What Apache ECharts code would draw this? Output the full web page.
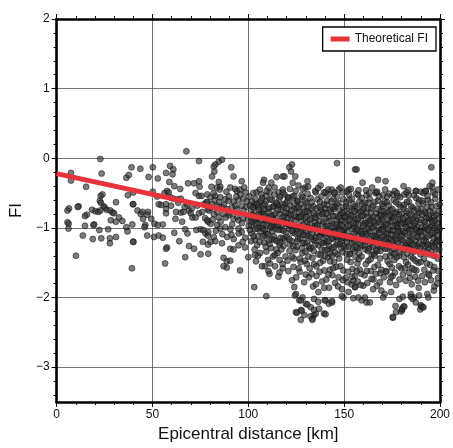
<!DOCTYPE html>
<html>
<head>
<meta charset="utf-8">
<script src="https://cdn.jsdelivr.net/npm/echarts@6/dist/echarts.min.js"></script>
<style>
  html, body { margin: 0; padding: 0; background: #fff; }
  #chart { width: 453px; height: 448px; }
</style>
</head>
<body>
<div id="chart"></div>
<script>
// tick values
const xMajor = [0, 50, 100, 150, 200];
const yMajor = [-3, -2, -1, 0, 1, 2];
const yMinor = [-3.4, -3.2, -3.0, -2.8, -2.6, -2.4, -2.2, -2.0, -1.8, -1.6, -1.4, -1.2, -1.0,
  -0.8, -0.6, -0.4, -0.2, 0, 0.2, 0.4, 0.6, 0.8, 1.0, 1.2, 1.4, 1.6, 1.8, 2.0];

// theoretical FI line (end points)
const fiLine = [[0, -0.22], [200, -1.41]];

// observed FI, grouped by distance band [km, FI]
const ptsNear = [
  [22.8,-0.01],[7.5,-0.21],[7.5,-0.32],[23.5,-0.22],[15.4,-0.41],[39.1,-0.13],[36.4,-0.28],[37.7,-0.24],[37.2,-0.53],[39.8,-0.66],
  [23.0,-0.54],[23.9,-0.52],[22.6,-0.61],[23.1,-0.64],[31.0,-0.63],[11.5,-0.69],[11.0,-0.70],[6.5,-0.72],[5.7,-0.75],[24.5,-0.69],[25.2,-0.71],
  [18.5,-0.74],[20.2,-0.76],[21.8,-0.77],[22.8,-0.75],[15.8,-0.81],[14.8,-0.83],[26.2,-0.74],[28.0,-0.75],[29.2,-0.78],[30.0,-0.79],
  [28.3,-0.89],[30.9,-0.91],[32.6,-0.85],[34.3,-0.90],[5.7,-0.92],[6.3,-0.94],[19.6,-0.95],[19.2,-0.96],[6.2,-1.01],[14.8,-0.97],
  [22.3,-1.03],[26.9,-1.02],[36.4,-0.99],[37.0,-1.05],[39.5,-0.95],[13.7,-1.11],[18.9,-1.16],[23.3,-1.15],[27.8,-1.15],[27.8,-1.22],
  [31.0,-1.13],[40.0,-1.20],[10.1,-1.40],[39.3,-1.58]
];
const ptsMid = [
  [67.7,0.10],[74.3,-0.04],[43.7,-0.15],[50.2,-0.13],[59.2,-0.11],[60.9,-0.16],[60.5,-0.23],[57.1,-0.21],[52.8,-0.29],[48.0,-0.27],
  [58.8,-0.34],[61.4,-0.40],[64.5,-0.44],[68.6,-0.36],[71.7,-0.36],[74.3,-0.33],[74.6,-0.41],[57.6,-0.47],[56.3,-0.50],[58.5,-0.49],[50.2,-0.48],[40.0,-0.49],
  [72.5,-0.50],[74.3,-0.54],[75.6,-0.54],[52.5,-0.55],[53.3,-0.66],[54.5,-0.67],[59.3,-0.56],[61.0,-0.58],[63.1,-0.59],[64.8,-0.58],
  [57.1,-0.66],[57.1,-0.73],[57.1,-0.79],[59.7,-0.68],[62.3,-0.77],[64.8,-0.78],[66.2,-0.77],[40.0,-0.66],
  [42.2,-0.75],[44.8,-0.77],[43.9,-0.80],[45.1,-0.87],[47.7,-0.77],[47.3,-0.81],[69.1,-0.75],[70.0,-0.79],[70.8,-0.85],[72.5,-0.85],[74.3,-0.79],[76.0,-0.77],
  [78.2,-0.63],[78.9,-0.73],[79.0,-0.91],[49.4,-0.87],[51.1,-0.94],[52.8,-0.96],[55.4,-0.95],[46.3,-0.96],[45.9,-0.99],[47.3,-1.11],[40.0,-1.20],
  [50.8,-1.13],[53.2,-1.11],[55.4,-1.14],[61.4,-1.07],[67.1,-1.02],[68.3,-1.08],[72.9,-1.03],[75.1,-1.02],[76.5,-1.03],[77.7,-1.08],[78.9,-1.11],
  [64.0,-1.19],[69.1,-1.26],[71.7,-1.30],[76.3,-1.20],[75.1,-1.38],[79.0,-1.24],[57.6,-1.28],[57.1,-1.30],[67.1,-1.42],[56.6,-1.51],
  [63.5,-0.64],[66.8,-0.70],[68.0,-0.66],[70.5,-0.72],[73.4,-0.68],[76.8,-0.66],[77.5,-0.86],[62.0,-0.87],[65.5,-0.91]
];
const ptsOuter = [
  [86.3,-0.02],[84.6,-0.05],[82.8,-0.09],[82.0,-0.12],[91.1,-0.13],[82.3,-0.19],[81.1,-0.26],[92.3,-0.26],[96.6,-0.33],
  [108.2,-0.31],[107.7,-0.35],[118.0,-0.26],[84.6,-0.34],[80.8,-0.41],[83.7,-0.42],[85.4,-0.41],
  [90.6,-0.42],[93.1,-0.44],[94.0,-0.47],[95.7,-0.45],[97.9,-0.42],[98.6,-0.49],
  [104.3,-0.49],[106.0,-0.45],[106.9,-0.52],[109.4,-0.54],[111.1,-0.49],[113.7,-0.42],[115.8,-0.49],
  [78.6,-0.52],[80.3,-0.56],[82.8,-0.54],[85.4,-0.56],[88.0,-0.59],[89.7,-0.61],[92.3,-0.62],[94.9,-0.60],[97.4,-0.58],
  [78.6,-0.63],[81.1,-0.66],[83.7,-0.68],[86.3,-0.70],[88.8,-0.73],[91.4,-0.70],[94.0,-0.73],[96.6,-0.68],[99.1,-0.70],
  [103.4,-0.66],[105.1,-0.70],[107.7,-0.68],[110.3,-0.73],[112.9,-0.70],[115.4,-0.68],[118.0,-0.66],
  [79.4,-0.75],[82.0,-0.80],[84.6,-0.85],[87.1,-0.80],[89.7,-0.82],[92.3,-0.87],[94.9,-0.89],[97.4,-0.86],
  [102.6,-0.80],[105.1,-0.85],[107.7,-0.80],[110.3,-0.86],[112.9,-0.82],[116.3,-0.80],
  [78.6,-0.89],[80.3,-0.94],[83.7,-0.96],[85.4,-1.01],[88.0,-0.99],[90.6,-1.02],[94.9,-1.01],[96.6,-1.06],
  [101.7,-0.96],[103.4,-1.02],[106.0,-0.99],[108.6,-1.03],[112.0,-1.00],[114.6,-0.96],[117.2,-1.02],
  [79.1,-1.06],[82.0,-1.13],[82.8,-1.19],[80.3,-1.20],[86.3,-1.22],[90.6,-1.30],[92.3,-1.31],[94.9,-1.25],
  [98.3,-1.28],[100.0,-1.42],[103.4,-1.39],[105.1,-1.40],
  [101.7,-1.08],[103.4,-1.17],[106.0,-1.20],[108.6,-1.11],[111.1,-1.23],[113.7,-1.17],[116.3,-1.24],[118.0,-1.15],
  [109.4,-1.34],[110.3,-1.46],[112.9,-1.41],[114.6,-1.31],[116.3,-1.46],[79.1,-1.37],
  [87.1,-1.43],[88.8,-1.48],[90.6,-1.47],[87.1,-1.55],[88.8,-1.57],[95.7,-1.61],
  [108.6,-1.55],[111.1,-1.66],[116.3,-1.64],[118.0,-1.58],[103.1,-1.85],[109.4,-1.98],
  [146.3,-0.07],[155.7,-0.16],[122.8,-0.09],[121.4,-0.13],[122.3,-0.19],[124.5,-0.26],[118.9,-0.26],[123.2,-0.35],
  [130.9,-0.33],[129.7,-0.42],[128.3,-0.56],[137.7,-0.39],[135.2,-0.49],[139.5,-0.49],[141.7,-0.45],[144.6,-0.49],
  [147.2,-0.45],[149.2,-0.49],[152.3,-0.45],[118.0,-0.45],[118.9,-0.52],[120.6,-0.56],[124.0,-0.54],[125.7,-0.61],
  [195.5,-0.13],[196.0,-0.35],[196.0,-0.42],[194.6,-0.40],[156.5,-0.16],[167.7,-0.31],[171.6,-0.33],[159.6,-0.35],[181.0,-0.40],
  [166.8,-0.49],[175.4,-0.52],[187.4,-0.47],[190.0,-0.48],[192.5,-0.47],[157.4,-0.53],[161.7,-0.53],[170.2,-0.53],[178.0,-0.54],[183.6,-0.53]
];
const ptsLow = [
  [124.0,-1.85],[124.9,-1.95],[126.6,-2.04],[128.3,-2.00],[130.0,-2.09],[127.5,-2.18],[129.2,-2.25],[124.9,-2.21],
  [132.6,-2.14],[134.3,-2.25],[133.5,-2.30],[135.2,-2.23],[136.9,-2.16],[139.5,-2.23],[140.3,-2.04],[142.0,-2.09],
  [143.7,-2.07],[149.7,-2.00],[152.3,-1.92],[155.7,-1.85],
  [159.1,-2.04],[161.7,-2.07],[163.4,-2.07],[157.4,-2.00],[176.8,-2.12],[177.1,-2.21],[180.2,-2.18],[181.0,-2.13],
  [175.4,-2.29],[190.0,-2.11],[190.8,-2.14],[154.8,-1.76],[155.7,-1.85],[160.0,-1.83],[165.1,-1.88],[169.4,-1.90],
  [171.1,-1.95],[174.5,-1.92],[184.8,-1.95],[186.5,-2.00],[189.1,-1.97],[193.4,-1.95],[196.8,-1.90],
  [124.3,-1.97],[127.4,-2.04],[125.3,-2.22],[127.9,-2.19],[127.4,-2.32],[130.8,-2.10],[132.5,-2.27],[133.4,-2.32],
  [134.3,-2.18],[134.3,-2.02],[136.5,-2.06],[139.9,-2.04],[140.3,-2.24],[143.7,-2.05],[148.8,-1.98],[154.8,-2.01],
  [160.8,-2.00],[170.3,-2.00],[175.4,-2.28],[178.8,-2.02],[180.6,-1.99],[179.7,-2.20],[180.2,-2.16],[181.4,-2.13],
  [184.8,-1.99],[185.7,-2.02],[187.4,-2.07],[189.7,-2.17],[190.3,-2.13],[191.4,-2.14],[193.9,-2.00]
];
const ptsDense = [
  [100.5,-0.55],[101.2,-0.78],[101.9,-0.62],[102.3,-0.91],[102.8,-1.12],[103.1,-0.71],[103.7,-0.58],[104.2,-0.84],[104.6,-1.25],[105.3,-0.93],
  [105.8,-0.64],[106.4,-1.05],[106.9,-0.77],[107.3,-0.57],[107.9,-0.95],[108.3,-1.21],[108.8,-0.83],[109.2,-0.62],[109.7,-1.08],[110.1,-0.90],
  [110.6,-0.42],[111.0,-0.71],[111.5,-0.98],[111.9,-1.29],[112.4,-0.60],[112.8,-0.87],[113.3,-1.12],[113.6,-0.52],[114.1,-0.79],[114.5,-1.02],
  [115.0,-0.66],[115.3,-1.36],[115.9,-0.91],[116.2,-0.58],[116.8,-1.14],[117.1,-0.74],[117.6,-0.97],[118.0,-0.49],[118.4,-1.26],[118.9,-0.83],
  [119.3,-0.65],[119.7,-1.07],[120.0,-0.92],[112.0,-0.35],[114.8,-0.27],[117.9,-1.52],[111.3,-1.51],
  [120.4,-0.61],[120.8,-0.79],[121.2,-1.01],[121.5,-1.33],[121.9,-0.68],[122.3,-0.88],[122.6,-1.19],[123.0,-0.55],[123.4,-0.96],[123.8,-1.44],
  [124.1,-0.73],[124.5,-1.08],[124.9,-0.84],[125.2,-1.27],[125.6,-0.62],[126.0,-0.99],[126.3,-1.58],[126.7,-0.77],[127.1,-1.15],[127.5,-0.90],
  [127.8,-0.53],[128.2,-1.36],[128.6,-1.02],[128.9,-0.71],[129.3,-1.21],[129.7,-0.86],[130.0,-1.67],[120.9,-1.62],[122.8,-1.75],[125.0,-1.71],
  [127.3,-1.49],[129.1,-1.78],[121.7,-0.44],[126.2,-0.39],
  [130.4,-0.64],[130.7,-0.93],[131.1,-1.12],[131.4,-1.41],[131.8,-0.78],[132.2,-1.03],[132.5,-0.57],[132.9,-1.29],[133.2,-0.86],[133.6,-1.17],
  [134.0,-0.69],[134.3,-1.52],[134.7,-0.97],[135.0,-1.24],[135.4,-0.81],[135.8,-1.07],[136.1,-0.59],[136.5,-1.38],[136.8,-0.90],[137.2,-1.63],
  [137.6,-1.11],[137.9,-0.74],[138.3,-1.31],[138.7,-0.95],[139.0,-1.47],[139.4,-0.66],[139.8,-1.19],[131.6,-1.71],[133.8,-1.84],[135.6,-1.69],
  [138.5,-1.77],[130.9,-0.51],[134.9,-0.47],[138.1,-0.55],[136.6,-1.92],[132.0,-1.58],
  [140.2,-0.72],[140.5,-0.98],[140.9,-1.21],[141.2,-0.61],[141.6,-1.42],[141.9,-0.85],[142.3,-1.09],[142.6,-1.60],[143.0,-0.77],[143.3,-1.30],
  [143.7,-0.94],[144.1,-1.16],[144.4,-0.58],[144.8,-1.49],[145.1,-1.03],[145.5,-0.83],[145.8,-1.25],[146.2,-0.66],[146.6,-1.38],[146.9,-0.99],
  [147.3,-1.12],[147.6,-0.75],[148.0,-1.55],[148.4,-0.89],[148.7,-1.19],[149.1,-1.35],[149.4,-0.70],[149.8,-1.05],[140.7,-1.74],[142.1,-1.86],
  [143.9,-1.68],[145.3,-1.79],[147.1,-1.71],[148.9,-1.88],[141.4,-0.52],[143.5,-0.45],[146.4,-0.55],[149.6,-0.59],[142.8,-1.37],[144.6,-0.73],
  [147.8,-0.95],[140.0,-1.32],
  [150.2,-0.77],[150.5,-1.01],[150.9,-1.28],[151.2,-0.63],[151.6,-1.46],[151.9,-0.89],[152.3,-1.15],[152.6,-0.71],[153.0,-1.37],[153.3,-0.96],
  [153.7,-1.22],[154.1,-0.58],[154.4,-1.59],[154.8,-0.84],[155.1,-1.08],[155.5,-1.33],[155.8,-0.69],[156.2,-0.93],[156.6,-1.19],[156.9,-1.51],
  [157.3,-0.79],[157.6,-1.04],[158.0,-0.62],[158.4,-1.27],[158.7,-0.88],[159.1,-1.41],[159.4,-1.12],[159.8,-0.74],[150.7,-1.72],[152.1,-1.63],
  [153.8,-1.81],[155.6,-1.69],[157.1,-1.77],[158.9,-1.66],[151.4,-0.48],[153.5,-0.44],[156.4,-0.51],[159.2,-0.57],[152.8,-0.87],[155.2,-0.99],
  [157.9,-1.36],
  [160.2,-0.82],[160.5,-1.06],[160.9,-0.64],[161.2,-1.31],[161.6,-0.93],[161.9,-1.18],[162.3,-0.72],[162.6,-1.47],[163.0,-1.01],[163.3,-0.58],
  [163.7,-1.24],[164.1,-0.87],[164.4,-1.39],[164.8,-1.11],[165.1,-0.68],[165.5,-0.97],[165.8,-1.56],[166.2,-1.20],[166.6,-0.79],[166.9,-1.04],
  [167.3,-1.33],[167.6,-0.61],[168.0,-0.91],[168.4,-1.16],[168.7,-1.44],[169.1,-0.75],[169.4,-1.02],[169.8,-1.27],[160.7,-1.68],[162.1,-1.79],
  [163.9,-1.62],[165.3,-1.74],[167.1,-1.83],[168.9,-1.65],[161.4,-0.46],[164.6,-0.42],[166.4,-0.50],[168.2,-0.55],[162.8,-0.95],[165.9,-1.12],
  [167.8,-1.25],[169.6,-0.88],
  [170.2,-0.69],[170.5,-0.98],[170.9,-1.23],[171.2,-0.81],[171.6,-1.41],[171.9,-1.07],[172.3,-0.63],[172.6,-1.30],[173.0,-0.90],[173.3,-1.15],
  [173.7,-1.52],[174.1,-0.74],[174.4,-1.03],[174.8,-1.36],[175.1,-0.86],[175.5,-1.19],[175.8,-0.60],[176.2,-1.46],[176.6,-0.95],[176.9,-1.10],
  [177.3,-0.77],[177.6,-1.28],[178.0,-1.01],[178.4,-0.66],[178.7,-1.40],[179.1,-0.89],[179.4,-1.17],[179.8,-1.58],[170.7,-1.71],[172.1,-1.63],
  [173.9,-1.78],[175.3,-1.69],[177.1,-1.82],[178.9,-1.74],[171.4,-0.45],[173.5,-0.51],[176.4,-0.47],[179.2,-0.56],[172.8,-1.08],[175.9,-1.25],
  [177.8,-0.93],[174.6,-0.83],
  [180.2,-0.80],[180.5,-1.05],[180.9,-1.32],[181.2,-0.67],[181.6,-0.94],[181.9,-1.21],[182.3,-1.49],[182.6,-0.76],[183.0,-1.02],[183.3,-1.27],
  [183.7,-0.62],[184.1,-0.88],[184.4,-1.13],[184.8,-1.41],[185.1,-0.97],[185.5,-1.58],[185.8,-0.71],[186.2,-1.08],[186.6,-1.34],[186.9,-0.84],
  [187.3,-1.19],[187.6,-0.57],[188.0,-0.99],[188.4,-1.26],[188.7,-1.50],[189.1,-0.78],[189.4,-1.04],[189.8,-1.38],[180.7,-1.67],[182.1,-1.76],
  [183.9,-1.64],[185.3,-1.81],[187.1,-1.70],[188.9,-1.86],[181.4,-0.52],[183.5,-0.46],[186.4,-0.53],[189.2,-0.60],[182.8,-0.92],[184.6,-1.22],
  [187.8,-0.90],
  [190.2,-0.73],[190.5,-1.00],[190.9,-1.24],[191.2,-0.65],[191.6,-1.44],[191.9,-0.91],[192.3,-1.14],[192.6,-0.79],[193.0,-1.35],[193.3,-1.03],
  [193.7,-0.60],[194.1,-1.28],[194.4,-0.87],[194.8,-1.53],[195.1,-1.10],[195.5,-0.70],[195.8,-0.97],[196.2,-1.21],[196.6,-1.40],[196.9,-0.83],
  [197.3,-1.07],[197.6,-0.58],[198.0,-1.31],[198.4,-0.94],[198.7,-1.17],[199.1,-1.62],[199.4,-0.76],[199.7,-1.02],[190.7,-1.69],[192.1,-1.78],
  [193.9,-1.66],[195.3,-1.75],[197.1,-1.84],[198.9,-1.72],[191.4,-0.50],[193.5,-0.54],[196.4,-0.49],[199.2,-0.45],[192.8,-1.20],[195.6,-0.89],
  [198.2,-1.11]
];
const ptsDense2 = [
  [80.7,-0.71],[81.5,-0.88],[82.4,-0.60],[83.1,-1.04],[83.9,-0.77],[84.8,-0.63],[85.6,-0.91],[86.5,-1.09],[87.3,-0.67],[88.2,-0.85],
  [89.0,-1.13],[89.9,-0.55],[90.7,-0.79],[91.6,-0.95],[92.4,-1.16],[93.3,-0.68],[94.1,-0.84],[95.0,-1.08],[95.8,-0.52],[96.7,-0.93],
  [97.5,-0.75],[98.4,-1.14],[99.2,-0.62],[99.8,-0.88],[81.9,-0.50],[85.1,-0.45],[88.6,-0.48],[93.8,-0.55],[97.1,-1.20],[91.2,-1.10],
  [100.2,-0.97],[100.9,-0.68],[101.5,-1.19],[102.1,-0.82],[102.6,-0.50],[103.3,-1.31],[103.9,-0.93],[104.5,-0.66],[105.0,-1.12],[105.6,-0.80],
  [106.2,-1.36],[106.7,-0.61],[107.4,-1.01],[108.0,-0.73],[108.6,-0.89],[109.1,-1.27],[109.6,-0.47],[110.3,-1.09],[110.8,-0.78],[111.4,-0.59],
  [112.1,-1.16],[112.7,-0.95],[113.2,-0.69],[113.8,-1.39],[114.3,-0.88],[114.9,-1.19],[115.5,-0.74],[116.0,-1.03],[116.6,-0.55],[117.3,-1.31],
  [117.8,-0.85],[118.6,-0.70],[119.1,-1.17],[119.6,-0.94],[104.0,-1.48],[107.1,-1.55],[110.5,-1.62],[114.0,-1.55],[119.4,-1.41],[115.7,-1.70],
  [120.3,-1.13],[120.7,-0.86],[121.1,-0.57],[121.6,-1.24],[122.0,-0.97],[122.5,-0.75],[122.9,-1.41],[123.3,-1.07],[123.7,-0.64],[124.2,-0.90],
  [124.6,-1.32],[125.1,-1.01],[125.4,-0.72],[125.9,-1.16],[126.4,-0.85],[126.9,-1.44],[127.2,-0.66],[127.7,-1.06],[128.1,-0.80],[128.5,-1.22],
  [128.8,-0.95],[129.5,-0.61],[129.9,-1.11],[120.5,-1.47],[123.6,-1.56],[126.8,-1.63],[129.6,-1.47],[124.7,-0.47],[128.4,-0.44],
  [130.2,-0.84],[130.6,-1.21],[131.0,-0.70],[131.3,-0.99],[131.9,-1.30],[132.3,-0.88],[132.7,-1.13],[133.1,-0.63],[133.5,-1.43],[133.9,-1.01],
  [134.2,-0.79],[134.6,-1.18],[135.1,-0.92],[135.5,-1.55],[135.9,-0.72],[136.3,-1.01],[136.7,-1.25],[137.0,-0.83],[137.4,-0.63],[137.8,-1.39],
  [138.2,-1.06],[138.6,-0.80],[138.9,-1.22],[139.3,-0.91],[139.7,-1.61],[130.5,-1.52],[133.0,-1.66],[135.3,-1.81],[137.5,-1.50],[139.6,-1.86],
  [131.2,-0.41],[136.4,-0.43],
  [140.3,-0.87],[140.6,-1.12],[141.0,-0.67],[141.3,-1.31],[141.7,-0.97],[142.0,-1.19],[142.4,-0.74],[142.7,-1.48],[143.1,-1.05],[143.4,-0.62],
  [143.8,-1.40],[144.2,-0.83],[144.5,-1.28],[144.9,-0.98],[145.2,-0.70],[145.6,-1.13],[145.9,-1.56],[146.3,-0.89],[146.7,-1.22],[147.0,-0.64],
  [147.4,-1.44],[147.7,-1.03],[148.1,-0.81],[148.5,-1.29],[148.8,-0.96],[149.2,-1.14],[149.5,-1.61],[149.9,-0.84],[141.8,-1.67],[144.3,-1.58],
  [146.8,-1.84],[149.3,-1.75],[140.4,-0.49],[145.0,-0.50],[148.2,-0.42],
  [150.3,-0.91],[150.6,-1.15],[151.0,-0.69],[151.3,-1.37],[151.7,-1.06],[152.0,-0.80],[152.4,-1.27],[152.7,-0.60],[153.1,-1.12],[153.4,-1.49],
  [153.9,-0.75],[154.2,-1.01],[154.6,-1.30],[154.9,-0.66],[155.3,-1.20],[155.7,-0.88],[156.0,-1.42],[156.3,-1.05],[156.7,-0.72],[157.0,-1.29],
  [157.4,-0.95],[157.8,-1.13],[158.1,-1.60],[158.5,-0.77],[158.8,-1.05],[159.3,-0.66],[159.6,-1.25],[159.9,-0.98],[151.8,-1.78],[154.0,-1.70],
  [156.5,-1.62],[158.6,-1.82],[152.5,-0.52],[157.5,-0.46],
  [160.3,-0.71],[160.6,-1.19],[161.0,-0.93],[161.3,-1.52],[161.7,-0.79],[162.0,-1.07],[162.4,-1.33],[162.7,-0.64],[163.1,-1.16],[163.4,-0.89],
  [163.8,-1.45],[164.2,-0.72],[164.5,-1.00],[164.9,-1.27],[165.2,-0.84],[165.6,-1.37],[165.9,-0.63],[166.3,-0.94],[166.7,-1.31],[167.0,-1.12],
  [167.4,-0.73],[167.7,-1.53],[168.1,-1.03],[168.5,-0.82],[168.8,-1.22],[169.2,-0.95],[169.5,-1.60],[169.9,-0.66],[161.8,-1.62],[164.3,-1.73],
  [166.5,-1.66],[168.6,-1.78],[163.2,-0.50],[167.2,-0.48],
  [170.3,-0.85],[170.6,-1.12],[171.0,-0.62],[171.3,-1.30],[171.7,-0.95],[172.0,-1.20],[172.4,-0.77],[172.7,-1.48],[173.1,-1.02],[173.4,-0.68],
  [173.8,-1.27],[174.2,-0.92],[174.5,-1.16],[174.9,-1.57],[175.2,-0.73],[175.6,-1.04],[176.0,-0.84],[176.3,-1.31],[176.7,-1.14],[177.0,-0.63],
  [177.4,-1.42],[177.7,-0.97],[178.1,-1.21],[178.5,-0.80],[178.8,-1.05],[179.2,-1.35],[179.5,-0.70],[179.9,-1.09],[171.8,-1.62],[174.3,-1.71],
  [176.5,-1.64],[178.6,-1.55],[172.5,-0.55],[177.5,-0.50],
  [180.3,-0.93],[180.6,-1.18],[181.0,-0.72],[181.3,-1.42],[181.7,-1.07],[182.0,-0.84],[182.4,-1.25],[182.7,-0.63],[183.1,-1.11],[183.4,-1.53],
  [183.8,-0.79],[184.2,-1.02],[184.5,-1.31],[184.9,-0.69],[185.2,-1.17],[185.6,-0.88],[186.0,-1.44],[186.3,-0.97],[186.7,-0.75],[187.0,-1.27],
  [187.4,-1.02],[187.7,-1.61],[188.1,-0.82],[188.5,-1.13],[188.8,-0.64],[189.2,-1.22],[189.5,-0.92],[189.9,-1.49],[181.8,-1.58],[184.3,-1.72],
  [186.5,-1.60],[188.6,-1.76],[182.5,-0.49],[187.5,-0.47],
  [190.3,-0.88],[190.6,-1.13],[191.0,-0.61],[191.3,-1.33],[191.7,-1.05],[192.0,-0.77],[192.4,-1.26],[192.7,-0.96],[193.1,-1.51],[193.4,-0.70],
  [193.8,-1.12],[194.2,-0.85],[194.5,-1.38],[194.9,-0.99],[195.2,-0.63],[195.6,-1.25],[196.0,-1.07],[196.3,-0.78],[196.7,-1.15],[197.0,-1.56],
  [197.4,-0.90],[197.7,-1.23],[198.1,-0.69],[198.5,-1.03],[198.8,-1.44],[199.2,-0.86],[199.5,-1.19],[199.8,-0.66],[191.8,-1.60],[194.3,-1.68],
  [196.5,-1.61],[198.6,-1.80],[192.5,-0.47],[197.5,-0.52]
];
const ptsDense3 = [
  [100.8,-1.03],[101.6,-0.86],[102.4,-0.70],[103.5,-0.88],[104.7,-1.01],[105.5,-0.74],[106.6,-0.89],[107.6,-1.12],[108.4,-0.66],[109.5,-0.95],
  [110.7,-1.18],[111.7,-0.83],[112.6,-1.05],[113.5,-0.92],[114.6,-0.64],[115.6,-0.96],[116.5,-1.21],[117.5,-0.90],[118.3,-1.04],[119.5,-0.78],
  [120.2,-0.72],[120.9,-0.95],[121.4,-1.16],[122.2,-0.81],[122.8,-1.04],[123.5,-1.26],[124.0,-0.82],[124.8,-0.98],[125.5,-1.19],[126.1,-0.70],
  [126.6,-1.08],[127.4,-0.84],[128.0,-1.29],[128.7,-1.10],[129.4,-0.77],[129.8,-1.34],
  [130.3,-1.04],[130.8,-0.76],[131.5,-1.26],[132.1,-0.95],[132.8,-0.72],[133.4,-1.08],[134.1,-1.33],[134.8,-0.85],[135.3,-1.14],[136.0,-0.96],
  [136.9,-1.13],[137.3,-0.70],[138.0,-1.21],[138.8,-1.07],[139.2,-0.78],[139.9,-1.40],
  [140.1,-1.09],[140.8,-0.79],[141.5,-1.02],[142.2,-1.26],[142.9,-0.90],[143.6,-1.15],[144.0,-0.70],[144.7,-1.06],[145.4,-1.35],[146.0,-0.95],
  [146.5,-1.13],[147.2,-0.85],[147.9,-1.23],[148.6,-1.05],[149.0,-0.78],[149.7,-1.26],
  [150.1,-1.10],[150.8,-0.84],[151.5,-1.19],[152.2,-0.97],[152.9,-1.38],[153.6,-0.82],[154.3,-1.14],[155.0,-0.93],[155.4,-0.76],[156.1,-1.27],
  [156.8,-1.02],[157.2,-0.87],[157.7,-1.45],[158.3,-1.17],[159.0,-0.83],[159.7,-1.09],
  [160.1,-0.96],[160.8,-1.25],[161.5,-1.09],[162.2,-0.85],[162.9,-1.30],[163.5,-1.06],[164.0,-0.78],[164.7,-1.20],[165.4,-0.91],[166.0,-1.40],
  [166.8,-1.16],[167.5,-0.86],[168.3,-1.07],[168.9,-1.33],[169.3,-0.82],[169.7,-1.13],
  [170.1,-1.03],[170.8,-0.76],[171.5,-1.17],[172.2,-0.94],[172.9,-1.22],[173.6,-0.82],[174.0,-1.40],[174.7,-1.10],[175.4,-0.97],[176.1,-1.37],
  [176.8,-0.79],[177.2,-1.17],[177.9,-1.06],[178.3,-0.88],[179.0,-1.27],[179.6,-0.95],
  [180.1,-1.12],[180.8,-0.86],[181.5,-1.28],[182.2,-0.99],[182.9,-1.37],[183.6,-0.90],[184.0,-1.19],[184.7,-0.81],[185.4,-1.04],[186.1,-1.24],
  [186.8,-0.93],[187.2,-1.47],[187.9,-1.12],[188.3,-0.73],[189.0,-1.06],[189.6,-1.30],
  [190.1,-1.05],[190.8,-0.81],[191.5,-1.18],[192.2,-0.99],[192.9,-0.86],[193.6,-1.24],[194.0,-1.02],[194.7,-0.76],[195.4,-1.34],[196.1,-0.92],
  [196.8,-1.27],[197.2,-1.00],[197.9,-0.81],[198.3,-1.20],[199.0,-0.99],[199.6,-1.31]
];

const chart = echarts.init(document.getElementById('chart'), null, { renderer: 'canvas' });

const font = '"Liberation Sans", Arial, Helvetica, sans-serif';
const frame = { show: true, onZero: false, lineStyle: { color: '#000', width: 2.6 } };
const dotStyle = { color: 'rgba(50,50,50,0.8)', borderColor: 'rgba(10,10,10,0.9)', borderWidth: 0.7 };

function dots(data) {
    return {
        type: 'scatter',
        data: data,
        symbol: 'circle',
        symbolSize: 6,
        itemStyle: dotStyle,
        silent: true,
        z: 2
    };
}

const option = {
    animation: false,
    backgroundColor: '#fff',
    textStyle: { fontFamily: font },
    grid: { left: 54, right: 10, top: 19, bottom: 40 },
    legend: {
        data: ['Theoretical FI'],
        right: 17,
        top: 27,
        backgroundColor: '#fff',
        borderColor: '#000',
        borderWidth: 1.3,
        borderRadius: 0,
        padding: [6, 8, 6, 8],
        itemWidth: 19,
        itemHeight: 5,
        itemGap: 8,
        icon: 'rect',
        textStyle: { fontFamily: font, fontSize: 12, color: '#111' }
    },
    xAxis: [
        {
            type: 'value', min: 0, max: 200, interval: 50, position: 'bottom',
            name: 'Epicentral distance [km]', nameLocation: 'middle', nameGap: 24,
            nameTextStyle: { fontFamily: font, fontSize: 17, color: '#111' },
            axisLine: frame,
            axisTick: { show: true, inside: false, length: 5, lineStyle: { color: '#000', width: 1 } },
            minorTick: { show: true, splitNumber: 5, length: 3, lineStyle: { color: '#000', width: 1 } },
            axisLabel: { fontFamily: font, fontSize: 12, color: '#111', margin: 7 },
            splitLine: { show: true, lineStyle: { color: '#555', width: 0.8 } }
        },
        {
            type: 'value', min: 0, max: 200, interval: 50, position: 'top',
            axisLine: frame,
            axisTick: { show: true, inside: false, length: 5, lineStyle: { color: '#000', width: 1 } },
            minorTick: { show: true, splitNumber: 5, length: 3, lineStyle: { color: '#000', width: 1 } },
            axisLabel: { show: false },
            splitLine: { show: false }
        }
    ],
    yAxis: [
        {
            type: 'value', min: -3.5, max: 2, position: 'left',
            name: 'FI', nameLocation: 'middle', nameGap: 27,
            nameTextStyle: { fontFamily: font, fontSize: 17, color: '#111' },
            axisLine: frame,
            axisTick: { show: true, customValues: yMajor, length: 5, lineStyle: { color: '#000', width: 1 } },
            axisLabel: {
                customValues: yMajor, fontFamily: font, fontSize: 12, color: '#111', margin: 7,
                formatter: v => (v < 0 ? '\u2212' + Math.abs(v) : String(v))
            },
            splitLine: { show: true, lineStyle: { color: '#555', width: 0.8 } }
        },
        {
            type: 'value', min: -3.5, max: 2, position: 'left',
            axisLine: { show: false, onZero: false },
            axisTick: { show: true, customValues: yMinor, length: 3, lineStyle: { color: '#000', width: 1 } },
            axisLabel: { show: false },
            splitLine: { show: false }
        },
        {
            type: 'value', min: -3.5, max: 2, position: 'right',
            axisLine: frame,
            axisTick: { show: true, customValues: yMajor, length: 5, lineStyle: { color: '#000', width: 1 } },
            axisLabel: { show: false },
            splitLine: { show: false }
        },
        {
            type: 'value', min: -3.5, max: 2, position: 'right',
            axisLine: { show: false, onZero: false },
            axisTick: { show: true, customValues: yMinor, length: 3, lineStyle: { color: '#000', width: 1 } },
            axisLabel: { show: false },
            splitLine: { show: false }
        }
    ],
    series: [
        dots(ptsNear),
        dots(ptsMid),
        dots(ptsOuter),
        dots(ptsLow),
        dots(ptsDense),
        dots(ptsDense2),
        dots(ptsDense3),
        {
            name: 'Theoretical FI',
            type: 'line',
            data: fiLine,
            symbol: 'none',
            lineStyle: { color: '#e8333b', width: 5 },
            itemStyle: { color: '#e8333b' },
            silent: true,
            z: 5
        }
    ]
};

chart.setOption(option);
</script>
</body>
</html>
